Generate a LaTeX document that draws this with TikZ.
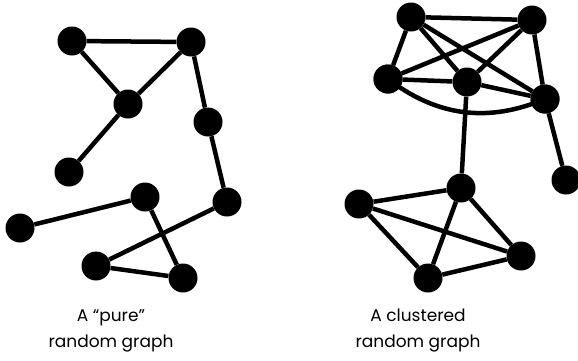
\documentclass[tikz,border=0pt]{standalone}
\usepackage{fontspec}
\setmainfont{Poppins}
\begin{document}
\begin{tikzpicture}[x=1pt,y=-1pt,
  vtx/.style={circle,fill=black,inner sep=0pt,minimum size=29pt},
  edge/.style={line width=4.5pt,black},
  lbl/.style={align=center,anchor=north,font=\fontsize{17}{26}\selectfont,inner sep=0pt}]
\useasboundingbox (0,0) rectangle (578,360);
% left graph
\node[vtx] (a) at (72,41) {};
\node[vtx] (b) at (191,42) {};
\node[vtx] (c) at (128,104) {};
\node[vtx] (d) at (69,172) {};
\node[vtx] (e) at (208,122) {};
\node[vtx] (f) at (227,202) {};
\node[vtx] (g) at (145,197) {};
\node[vtx] (h) at (20,228) {};
\node[vtx] (i) at (96,266) {};
\node[vtx] (j) at (183,278) {};
\draw[edge] (a) -- (b);
\draw[edge] (a) -- (c);
\draw[edge] (b) -- (c);
\draw[edge] (c) -- (d);
\draw[edge] (b) -- (e);
\draw[edge] (e) -- (f);
\draw[edge] (f) -- (i);
\draw[edge] (g) -- (h);
\draw[edge] (g) -- (j);
\draw[edge] (i) -- (j);
% right graph
\node[vtx] (p1) at (411,17) {};
\node[vtx] (p2) at (532,20) {};
\node[vtx] (p3) at (388,79) {};
\node[vtx] (p4) at (467,82) {};
\node[vtx] (p5) at (545,99) {};
\node[vtx] (p6) at (566,180) {};
\node[vtx] (q1) at (461,188) {};
\node[vtx] (q2) at (359,204) {};
\node[vtx] (q3) at (521,256) {};
\node[vtx] (q4) at (428,278) {};
\draw[edge] (p1) -- (p2);
\draw[edge] (p1) -- (p3);
\draw[edge] (p1) -- (p4);
\draw[edge] (p1) -- (p5);
\draw[edge] (p2) -- (p3);
\draw[edge] (p2) -- (p4);
\draw[edge] (p2) -- (p5);
\draw[edge] (p3) -- (p4);
\draw[edge] (p4) -- (p5);
\draw[edge] (p3.center) to[bend right=30] (p5.center);
\draw[edge] (p4) -- (q1);
\draw[edge] (p5) -- (p6);
\draw[edge] (q1) -- (q2);
\draw[edge] (q1) -- (q3);
\draw[edge] (q1) -- (q4);
\draw[edge] (q2) -- (q3);
\draw[edge] (q2) -- (q4);
\draw[edge] (q4) -- (q3);
% redraw circles on top of the curved edge
\foreach \n in {p3,p5}{\fill (\n) circle (14.5pt);}
% labels
\node[lbl] (l1) at (111,309) {A “pure”\\random graph};
\node[lbl] (l2) at (418,309) {A clustered\\random graph};
\end{tikzpicture}
\end{document}
